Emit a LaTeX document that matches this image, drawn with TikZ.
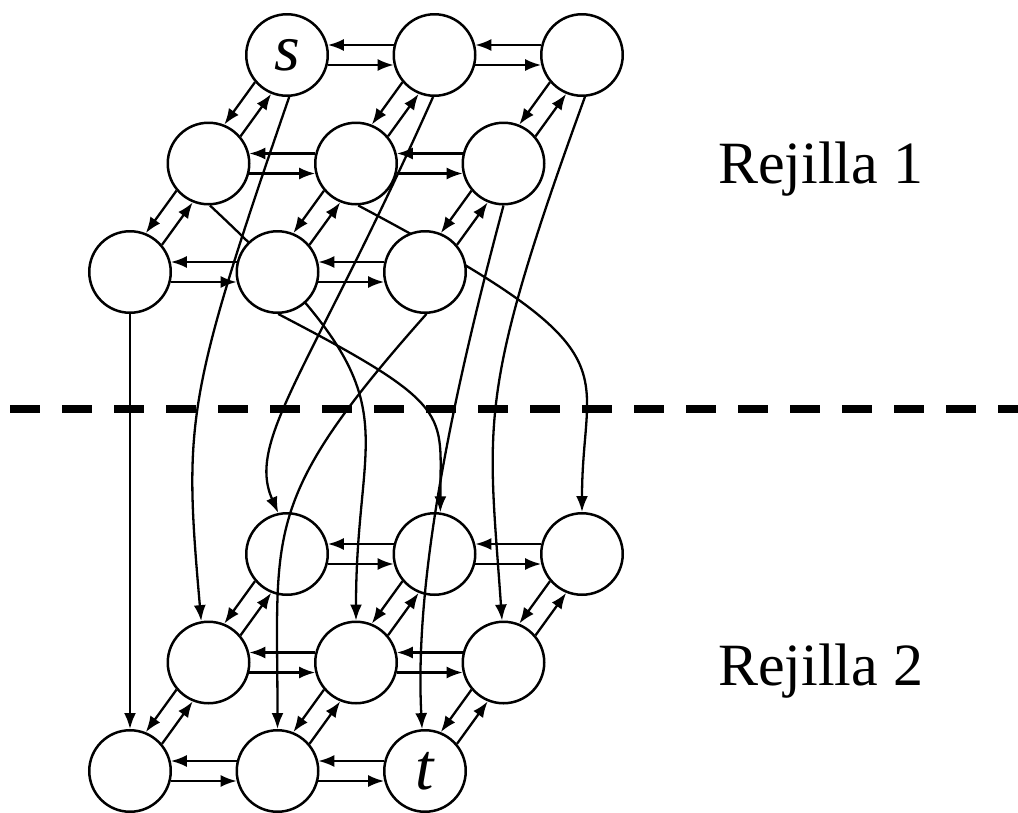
\documentclass[tikz,border=0pt]{standalone}
\usepackage{fontspec}
\setmainfont{Liberation Serif}
\usetikzlibrary{arrows.meta,calc,backgrounds}

\tikzset{
  vtx/.style={circle, draw, line width=2.5pt, minimum size=81.5pt, inner sep=0pt,
              font=\fontsize{66}{70}\selectfont\itshape},
  topvtx/.style={vtx, fill=white},
  headed/.style={-{Latex[length=16pt,width=12pt]}, line width=2.3pt},
  link/.style={headed, shorten <=40.8pt, shorten >=40.8pt},
  jump/.style={headed},
  caption/.style={anchor=base west, inner sep=0pt, font=\fontsize{60}{72}\selectfont},
  cut/.style={line width=8pt, dash pattern=on 30pt off 22pt},
}

% two opposite arrows between neighbouring vertices, each offset to its own right
\newcommand\pairlink[2]{%
  \draw[link] ($(#1)!10pt!-90:(#2)$) -- ($(#2)!10pt!90:(#1)$);
  \draw[link] ($(#2)!10pt!-90:(#1)$) -- ($(#1)!10pt!90:(#2)$);
}

\begin{document}
\begin{tikzpicture}[x=1pt,y=-1pt]
\useasboundingbox (0,0) rectangle (1018,812);

% upper grid
\node[topvtx] (A00) at (287,55) {s};
\node[topvtx] (A01) at (434.5,55) {};
\node[topvtx] (A02) at (582,55) {};
\node[topvtx] (A10) at (208.5,163.5) {};
\node[topvtx] (A11) at (356,163.5) {};
\node[topvtx] (A12) at (503.5,163.5) {};
\node[topvtx] (A20) at (130,272) {};
\node[topvtx] (A21) at (277.5,272) {};
\node[topvtx] (A22) at (425,272) {};

% lower grid
\node[vtx] (B00) at (287,554) {};
\node[vtx] (B01) at (434.5,554) {};
\node[vtx] (B02) at (582,554) {};
\node[vtx] (B10) at (208.5,662.5) {};
\node[vtx] (B11) at (356,662.5) {};
\node[vtx] (B12) at (503.5,662.5) {};
\node[vtx] (B20) at (130,771) {};
\node[vtx] (B21) at (277.5,771) {};
\node[vtx] (B22) at (425,771) {t};

% edges inside each grid
\foreach \g in {A,B}{
  \pairlink{\g00}{\g01}
  \pairlink{\g01}{\g02}
  \pairlink{\g10}{\g11}
  \pairlink{\g11}{\g12}
  \pairlink{\g20}{\g21}
  \pairlink{\g21}{\g22}
  \pairlink{\g00}{\g10}
  \pairlink{\g01}{\g11}
  \pairlink{\g02}{\g12}
  \pairlink{\g10}{\g20}
  \pairlink{\g11}{\g21}
  \pairlink{\g12}{\g22}
}

% edges from the upper grid to the lower one, behind the upper vertices
\begin{scope}[on background layer]
  \draw[cut] (10,409) -- (1018,409);
  \draw[jump] (A00.-87) to[out=-109, in=95, out distance=320pt, in distance=200pt] (B10.100);
  \draw[jump] (A01.-92) to[out=-114, in=114, out distance=300pt, in distance=80pt] (B00.102);
  \draw[jump] (A02.-86) to[out=-110, in=94, out distance=320pt, in distance=200pt] (B12.92);
  \draw[jump] (A10.-88) to[out=-43, in=90, out distance=290pt, in distance=210pt] (B11.90);
  \draw[jump] (A11.-87) to[out=-28, in=90, out distance=320pt, in distance=150pt] (B02.90);
  \draw[jump] (A12.-90) to[out=-105, in=93, out distance=200pt, in distance=150pt] (B22.94);
  \draw[jump] (A20) -- (B20);
  \draw[jump] (A21.-89) to[out=-27.5, in=90, out distance=200pt, in distance=100pt] (B01.82);
  \draw[jump] (A22.-88) to[out=-131.6, in=90, out distance=250pt, in distance=200pt] (B21.90);
\end{scope}

% grid captions
\node[caption] (cap1) at (718,183) {Rejilla 1};
\node[caption] (cap2) at (718,685) {Rejilla 2};
\end{tikzpicture}
\end{document}
